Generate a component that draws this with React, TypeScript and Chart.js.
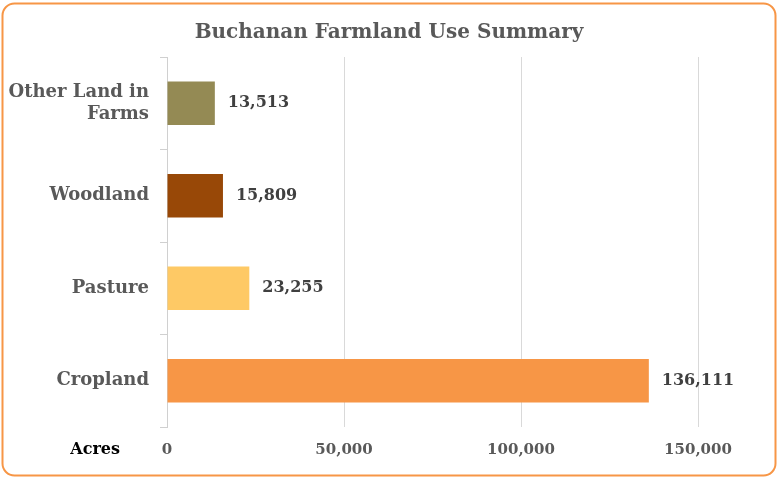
import React, { useEffect, useRef } from "react";
import { Chart, registerables } from "chart.js";

Chart.register(...registerables);

const categories: (string | string[])[] = [["Other Land in", "Farms"], "Woodland", "Pasture", "Cropland"];
const acres: number[] = [13513, 15809, 23255, 136111];
const barColors: string[] = ["#948a54", "#984807", "#fec965", "#f79646"];
const xTicks: number[] = [0, 50000, 100000, 150000];
const axisLabel = "Acres";
const titleText = "Buchanan Farmland Use Summary";

const FONT = "'DejaVu Serif', Georgia, serif";

const fmt = (v: number) => v.toLocaleString("en-US");

const framePlugin = {
  id: "frame",
  beforeDraw(chart: any) {
    const ctx = chart.ctx;
    ctx.save();
    ctx.fillStyle = "#ffffff";
    ctx.fillRect(0, 0, chart.width, chart.height);
    ctx.beginPath();
    ctx.roundRect(2.5, 3.5, chart.width - 5, chart.height - 7, 12);
    ctx.strokeStyle = "#f79646";
    ctx.lineWidth = 2;
    ctx.stroke();
    ctx.fillStyle = "#595959";
    ctx.font = `bold 20px ${FONT}`;
    ctx.textAlign = "center";
    ctx.textBaseline = "middle";
    ctx.fillText(titleText, chart.width / 2, 33);
    ctx.restore();
  },
};

const labelsPlugin = {
  id: "valueLabels",
  afterDatasetsDraw(chart: any) {
    const ctx = chart.ctx;
    const meta = chart.getDatasetMeta(0);
    ctx.save();
    ctx.font = `bold 16px ${FONT}`;
    ctx.fillStyle = "#404040";
    ctx.textAlign = "left";
    ctx.textBaseline = "middle";
    meta.data.forEach((el: any, i: number) => {
      ctx.fillText(fmt(acres[i]), el.x + 13, el.y);
    });
    const area = chart.chartArea;
    ctx.fillStyle = "#000000";
    ctx.textAlign = "right";
    ctx.font = `bold 16px ${FONT}`;
    ctx.fillText(axisLabel, area.left - 47, area.bottom + 23);
    ctx.restore();
  },
};

export default function App() {
  const ref = useRef<HTMLCanvasElement | null>(null);
  useEffect(() => {
    if (!ref.current) return;
    const chart = new Chart(ref.current, {
      type: "bar",
      data: {
        labels: categories,
        datasets: [
          {
            data: acres,
            backgroundColor: barColors,
            barPercentage: 0.47,
            categoryPercentage: 1,
          },
        ],
      },
      options: {
        indexAxis: "y",
        responsive: false,
        animation: false,
        layout: { padding: { left: 0, right: 80, top: 57, bottom: 0 } },
        plugins: {
          legend: { display: false },
          tooltip: { enabled: false },
          title: { display: false },
        },
        scales: {
          x: {
            min: 0,
            max: 150000,
            afterBuildTicks(scale: any) {
              scale.ticks = xTicks.map((v) => ({ value: v }));
            },
            afterFit(scale: any) {
              scale.height = 52;
            },
            border: { display: false },
            grid: { color: "#d9d9d9", drawTicks: false, lineWidth: 1 },
            ticks: {
              padding: 14,
              color: "#595959",
              font: { family: FONT, size: 15, weight: "bold" },
              callback: (v: any) => fmt(Number(v)),
            },
          },
          y: {
            afterFit(scale: any) {
              scale.width = 167;
            },
            border: { display: true, color: "#d0d0d0" },
            grid: { drawOnChartArea: false, drawTicks: true, tickLength: 7, color: "#d0d0d0" },
            ticks: {
              padding: 11,
              color: "#595959",
              font: { family: FONT, size: 18, weight: "bold", lineHeight: 1.25 },
            },
          },
        },
      },
      plugins: [framePlugin, labelsPlugin],
    });
    return () => chart.destroy();
  }, []);
  return (
    <div style={{ position: "fixed", left: 0, top: 0, width: 778, height: 479 }}>
      <canvas ref={ref} width={778} height={479} />
    </div>
  );
}
